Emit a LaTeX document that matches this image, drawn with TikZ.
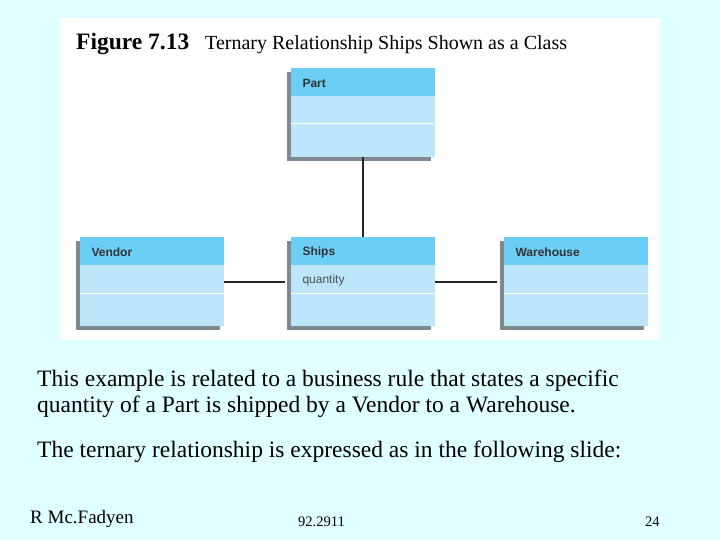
\documentclass[tikz,border=0pt]{standalone}
\usepackage{fontspec}
\setmainfont{Liberation Serif}
\setsansfont{Liberation Sans}
\definecolor{bg}{HTML}{E0FFFF}
\definecolor{hdr}{HTML}{6CCDF5}
\definecolor{row}{HTML}{BDE6FA}
\definecolor{shd}{HTML}{7F8A90}
\begin{document}
\begin{tikzpicture}[x=1pt,y=-1pt,
  hdrtxt/.style={anchor=west,font=\sffamily\bfseries\fontsize{12}{14}\selectfont,text=black!80},
  attr/.style={anchor=west,font=\sffamily\fontsize{12}{14}\selectfont,text=black!70},
  conn/.style={line width=1.6pt,black!85},
  body/.style={anchor=west,font=\fontsize{23.5}{26}\selectfont,inner sep=0}]
\useasboundingbox (0,0) rectangle (720,540);
\fill[bg] (0,0) rectangle (720,540);
\fill[white] (60,18) rectangle (660,340);
\node[anchor=west,inner sep=0,font=\bfseries\fontsize{23.5}{26}\selectfont] (fig) at (76,44) {Figure 7.13};
\node[anchor=west,inner sep=0,font=\fontsize{20}{22}\selectfont] (cap) at (205,45) {Ternary Relationship Ships Shown as a Class};
% class boxes
\newcommand{\umlbox}[4]{%
  \fill[shd] (#2-4,#3+4) rectangle (#2+140,#3+93);
  \fill[row] (#2,#3) rectangle (#2+144,#3+89);
  \fill[hdr] (#2,#3) rectangle (#2+144,#3+28);
  \draw[white,line width=1pt] (#2,#3+56) -- (#2+144,#3+56);
  \coordinate (#1) at (#2+72,#3+44.5);
  \coordinate (#1-n) at (#2+72,#3);
  \coordinate (#1-s) at (#2+72,#3+89);
  \coordinate (#1-w) at (#2,#3+45);
  \coordinate (#1-e) at (#2+144,#3+45);
  \node[hdrtxt] at (#2+8,#3+15) {#4};}
\umlbox{part}{291}{68}{Part}
\umlbox{vendor}{80}{237}{Vendor}
\umlbox{ships}{291}{237}{Ships}
\umlbox{ware}{504}{237}{Warehouse}
\node[attr] (qty) at (299,280) {quantity};
\coordinate (lv) at (285,282);
\coordinate (rw) at (497,282);
\draw[conn] (part-s) -- (ships-n);
\draw[conn] (vendor-e|-lv) -- (lv);
\draw[conn] (ships-e|-rw) -- (rw);
\node[body] (t1) at (37,381) {This example is related to a business rule that states a specific};
\node[body] (t2) at (37,407) {quantity of a Part is shipped by a Vendor to a Warehouse.};
\node[body] (t3) at (37,452) {The ternary relationship is expressed as in the following slide:};
\node[anchor=west,inner sep=0,font=\fontsize{19}{22}\selectfont] (auth) at (30,519) {R Mc.Fadyen};
\node[anchor=west,inner sep=0,font=\fontsize{14.5}{16}\selectfont] (num) at (298,522) {92.2911};
\node[anchor=west,inner sep=0,font=\fontsize{14.5}{16}\selectfont] (pg) at (645,522) {24};
\end{tikzpicture}
\end{document}
